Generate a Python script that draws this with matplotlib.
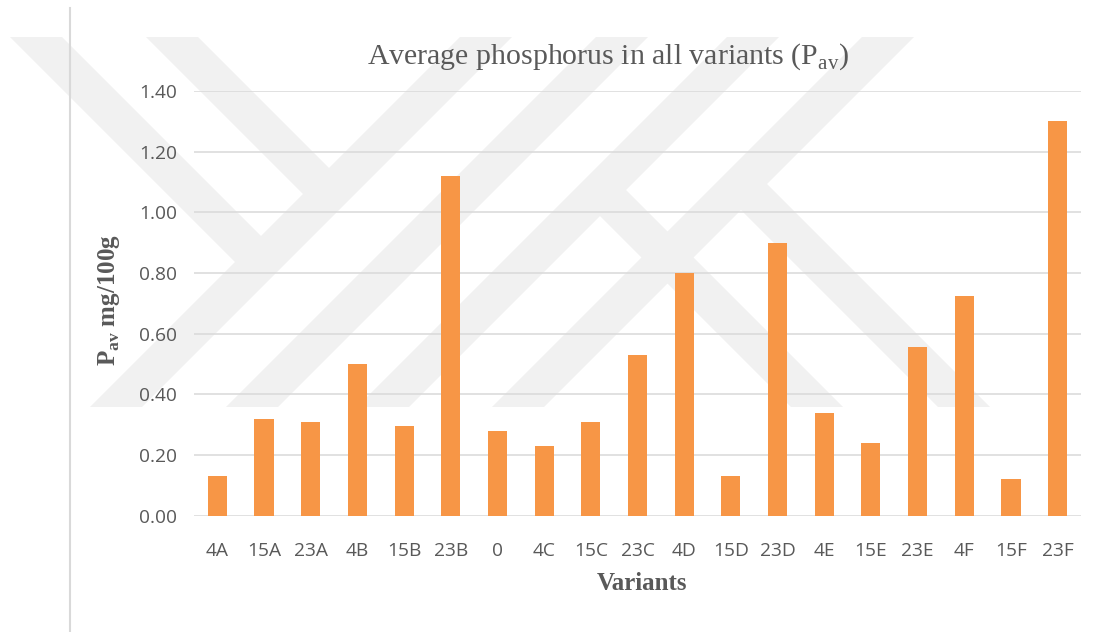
import matplotlib
matplotlib.use('Agg')
import matplotlib.pyplot as plt
from matplotlib.patches import Polygon

# data
variants = ['4A', '15A', '23A', '4B', '15B', '23B', '0', '4C', '15C', '23C',
            '4D', '15D', '23D', '4E', '15E', '23E', '4F', '15F', '23F']
p_av = [0.13, 0.32, 0.31, 0.50, 0.295, 1.12, 0.28, 0.23, 0.31, 0.53,
        0.80, 0.13, 0.90, 0.34, 0.24, 0.555, 0.725, 0.12, 1.30]
y_ticks = [0.0, 0.2, 0.4, 0.6, 0.8, 1.0, 1.2, 1.4]

plt.rcParams['mathtext.fontset'] = 'custom'
plt.rcParams['mathtext.rm'] = 'Liberation Serif'
plt.rcParams['mathtext.bf'] = 'Liberation Serif:bold'

fig = plt.figure(figsize=(11.08, 6.32), dpi=100)

# faint watermark in the background (figure pixel coords)
bg = fig.add_axes([0, 0, 1, 1], zorder=0)
bg.set_xlim(0, 1108)
bg.set_ylim(632, 0)
bg.axis('off')
strips = [((116, 407), (486, 37)), ((252, 407), (622, 37)),
          ((383, 407), (753, 37)), ((518, 407), (888, 37)),
          ((36, 37), (261, 262)), ((172, 37), (329, 194)),
          ((600, 190), (817, 407)), ((741, 184), (964, 407))]
hw = 26
for (x0, y0), (x1, y1) in strips:
    bg.add_patch(Polygon([(x0 - hw, y0), (x0 + hw, y0), (x1 + hw, y1), (x1 - hw, y1)],
                         closed=True, facecolor='#f1f1f1', edgecolor='none'))
bg.plot([70, 70], [8, 632], color='#d9d9d9', lw=1.5)

ax = fig.add_axes([0.1751, 0.184, 0.8005, 0.672], zorder=1)
ax.set_facecolor('none')
ax.bar(range(len(variants)), p_av, width=0.41, color='#F79646', zorder=3)

ax.set_xlim(-0.5, len(variants) - 0.5)
ax.set_ylim(0, 1.4)
ax.set_yticks(y_ticks)
ax.set_yticklabels(['%.2f' % v for v in y_ticks])
ax.set_xticks(range(len(variants)))
ax.set_xticklabels(variants)
ax.grid(axis='y', color='#d9d9d9', lw=1.1, zorder=0)
ax.set_axisbelow(True)
for s in ax.spines.values():
    s.set_visible(False)
ax.tick_params(length=0, colors='#595959', labelsize=13.8)
ax.tick_params(axis='y', pad=12)
ax.tick_params(axis='x', pad=19)
for lab in ax.get_xticklabels() + ax.get_yticklabels():
    lab.set_fontfamily('Open Sans')

fig.text(0.549, 0.91, 'Average phosphorus in all variants (P$_{\\mathrm{av}}$)',
         ha='center', va='center', fontsize=21.5, color='#595959',
         family='Liberation Serif')
fig.text(109 / 1108, 1 - 300 / 632, 'P$_{\\mathbf{av}}$ mg/100g', rotation=90,
         ha='center', va='center', fontsize=18, fontweight='bold',
         color='#595959', family='Liberation Serif')
fig.text(642 / 1108, 1 - 584 / 632, 'Variants', ha='center', va='center',
         fontsize=18, fontweight='bold', color='#595959',
         family='Liberation Serif')

fig.savefig('out.png', dpi=100)
